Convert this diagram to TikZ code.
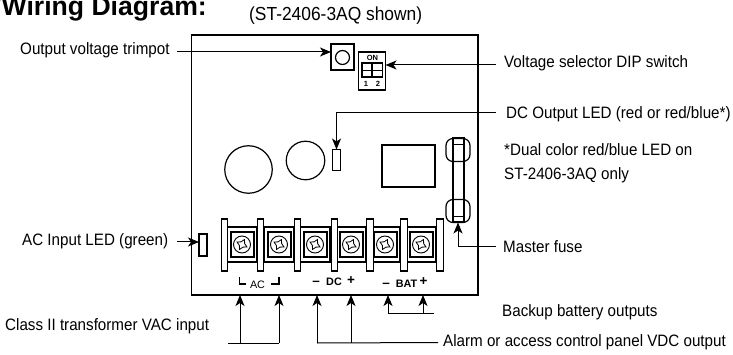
\documentclass[tikz,border=0pt]{standalone}
\usepackage{fontspec}
\setmainfont{Liberation Sans}
\newfontfamily\narrowsans[FakeStretch=0.92]{Liberation Sans}
\usetikzlibrary{arrows.meta,positioning,calc}

% one screw terminal of the barrier strip
\newcommand{\terminal}[2]{
  \node[termbody] (#1body) at (#2,244.5) {};
  \node[termsq] (#1sq) at (#2,244.5) {};
  \node[screw] (#1) at (#2,244.5) {};
  \draw[line width=0.8pt, shift={(#1.center)}] (-5,-2.5) to[bend right=30] (2.5,-5)
    to[bend right=30] (5,2.5) to[bend right=30] (-2.5,5)
    to[bend right=30] cycle;
}

\begin{document}
\begin{tikzpicture}[x=1pt, y=-1pt,
  part/.style={draw, line width=1.2pt, inner sep=0pt, outer sep=0pt},
  termbody/.style={part, line width=1.5pt, minimum width=30, minimum height=35},
  termsq/.style={part, line width=2pt, minimum width=23, minimum height=25},
  screw/.style={part, circle, line width=0.9pt, minimum size=17},
  barrier/.style={part, fill=white, minimum width=6.5, minimum height=52},
  lbl/.style={font=\narrowsans\fontsize{16.5}{18}\selectfont, inner sep=0pt, anchor=west},
  mini/.style={font=\fontsize{10.8}{12}\selectfont\bfseries, inner sep=0pt},
  sign/.style={font=\fontsize{13.5}{14}\selectfont\bfseries, inner sep=0pt},
  dipmark/.style={font=\fontsize{7.5}{8}\selectfont\bfseries, inner sep=0pt},
  arr/.style={-{Stealth[length=11pt, width=9pt, inset=3pt]}, line width=1pt},
  wire/.style={line width=1pt}
]
\useasboundingbox (0,0) rectangle (733,355);
\node[inner sep=0pt, anchor=base east, font=\fontsize{26.6}{29}\selectfont\bfseries] (title)
  at (207,16) {/Wiring Diagram:};
\node[lbl, font=\narrowsans\fontsize{18.9}{21}\selectfont, anchor=base west] (shown)
  at (249,21) {(ST-2406-3AQ shown)};
% board and its parts
\node[part, minimum width=286.5, minimum height=260] (board) at (334.75,165) {};
\node[part, minimum width=23, minimum height=26] (trimpot) at (342.5,57) {};
\node[part, circle, minimum size=14] (trimknob) at (342.5,57.5) {};
\node[part, minimum width=27, minimum height=38] (dip) at (372,71) {};
\node[part, minimum width=10, minimum height=14] (dipa) at (367,70) {};
\node[part, minimum width=9.5, minimum height=14] (dipb) at (377.5,70) {};
\draw[line width=0.9pt] (dipa.west) -- (dipa.east) (dipb.west) -- (dipb.east);
\node[dipmark] (dipon) at (372.5,58) {ON};
\node[dipmark] (dipone) at (366,84) {1};
\node[dipmark] (diptwo) at (378,84) {2};
\node[part, minimum width=8.5, minimum height=21] (dcled) at (336.5,160) {};
\node[part, circle, minimum size=47.5] (capbig) at (248.5,169.5) {};
\node[part, circle, minimum size=38.5] (capsmall) at (305.5,160.5) {};
\node[part, minimum width=53, minimum height=42] (relay) at (408.5,166) {};
\node[part, minimum width=8, minimum height=22] (acled) at (203,245) {};
% fuse
\node[part, minimum width=11, minimum height=84] (fuse) at (458.5,180) {};
\node[part, rounded corners=7pt, minimum width=24, minimum height=23] (fusetop) at (458,150) {};
\node[part, rounded corners=7pt, minimum width=24, minimum height=23] (fusebot) at (458,211) {};
\draw[line width=0.9pt] (fuse.west |- 0,216) -- (fuse.east |- 0,216)
  (fuse.west |- 0,144) -- (fuse.east |- 0,144);
% barrier strip
\terminal{ta}{242}
\terminal{tb}{279}
\terminal{tc}{315}
\terminal{td}{351}
\terminal{te}{385}
\terminal{tf}{421}
\node[barrier] (ba) at (224.5,245) {};
\node[barrier] (bb) at (260.5,245) {};
\node[barrier] (bc) at (297.5,245) {};
\node[barrier] (bd) at (334.5,245) {};
\node[barrier] (be) at (370,245) {};
\node[barrier] (bf) at (404,245) {};
\node[barrier] (bg) at (440,245) {};
% terminal markings
\draw[line width=1.3pt] (239.5,276.5) |- (246,284);
\draw[line width=1.3pt] (279,276.5) |- (271,284);
\node[mini, font=\fontsize{10.8}{12}\selectfont] (aclbl) at (257.5,284.5) {AC};
\node[sign] (dcminus) at (316,283) {–};
\node[mini] (dclbl) at (334,281.5) {DC};
\node[sign] (dcplus) at (351,280.5) {+};
\node[sign] (batminus) at (386,285) {–};
\node[mini] (batlbl) at (406.5,283.5) {BAT};
\node[sign] (batplus) at (423.5,282) {+};
% labels
\node[lbl] (lbltrim) at (20,50.5) {Output voltage trimpot};
\node[lbl] (lbldip) at (504,63) {Voltage selector DIP switch};
\node[lbl] (lbldc) at (506,114) {DC Output LED (red or red/blue*)};
\node[lbl] (lbldual) at (504,150) {*Dual color red/blue LED on};
\node[lbl] (lblonly) at (504,175) {ST-2406-3AQ only};
\node[lbl] (lblac) at (22,241) {AC Input LED (green)};
\node[lbl] (lblfuse) at (503,247) {Master fuse};
\node[lbl] (lblclass) at (5,326) {Class II transformer VAC input};
\node[lbl] (lblbat) at (502,312) {Backup battery outputs};
\node[lbl] (lblpanel) at (443,342.5) {Alarm or access control panel VDC output};
% connectors
\coordinate (trimstart) at (177,52);
\coordinate (dipstart) at (496,65);
\coordinate (dcstart) at (496,113);
\coordinate (fusestart) at (496,246.5);
\coordinate (acstart) at (177,242);
\draw[arr] (trimstart) -- (trimstart -| trimpot.west);
\draw[arr] (dipstart) -- (dipstart -| dip.east);
\draw[arr] (dcstart) -| (dcled.north);
\draw[arr] (fusestart) -| (fusebot.south);
\draw[arr] (acstart) -- (acstart -| acled.west);
% wires below the board
\coordinate (acend) at (228,343);
\coordinate (acb) at (279,343);
\coordinate (aca) at (240,343);
\coordinate (dca) at (317,343);
\coordinate (dcb) at (351,343);
\coordinate (batend) at (434,313);
\coordinate (bata) at (388,313);
\coordinate (batb) at (423,313);
\draw[wire] (acend) -- (acb);
\draw[wire, shorten >=5pt] (dca) -- (lblpanel.west);
\draw[wire] (bata) -- (batend);
\draw[arr] (aca) -- (aca |- board.south);
\draw[arr] (acb) -- (acb |- board.south);
\draw[arr] (dca) -- (dca |- board.south);
\draw[arr] (dcb) -- (dcb |- board.south);
\draw[arr] (bata) -- (bata |- board.south);
\draw[arr] (batb) -- (batb |- board.south);
\end{tikzpicture}
\end{document}
